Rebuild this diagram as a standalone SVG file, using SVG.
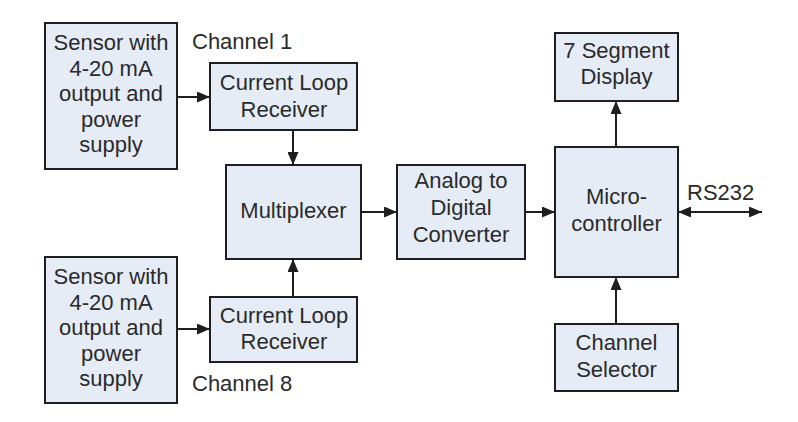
<svg xmlns="http://www.w3.org/2000/svg" width="798" height="422" viewBox="0 0 798 422">
<defs>
<style>
.box{fill:#e6ecf6;stroke:#1e1e1e;stroke-width:2}
.t{font-family:"Liberation Sans",Arial,sans-serif;font-size:22px;fill:#2a2a2a;text-anchor:middle}
.l{font-family:"Liberation Sans",Arial,sans-serif;font-size:22px;fill:#2a2a2a}
.c{stroke:#1e1e1e;stroke-width:2;fill:none;marker-end:url(#ah)}
</style>
<marker id="ah" viewBox="0 0 13 11" refX="13" refY="5.5" markerWidth="13" markerHeight="11" markerUnits="userSpaceOnUse" orient="auto-start-reverse">
<path d="M0,0 L13,5.5 L0,11 z" fill="#1e1e1e"/>
</marker>
</defs>
<rect width="798" height="422" fill="#ffffff"/>
<g id="sensor1">
<rect class="box" x="45" y="23" width="132" height="146"/>
<text class="t" x="111" y="50">Sensor with</text>
<text class="t" x="111" y="76">4-20 mA</text>
<text class="t" x="111" y="101">output and</text>
<text class="t" x="111" y="127">power</text>
<text class="t" x="111" y="152">supply</text>
</g>
<g id="sensor2">
<rect class="box" x="45" y="257" width="132" height="146"/>
<text class="t" x="111" y="284">Sensor with</text>
<text class="t" x="111" y="310">4-20 mA</text>
<text class="t" x="111" y="335">output and</text>
<text class="t" x="111" y="361">power</text>
<text class="t" x="111" y="386">supply</text>
</g>
<g id="label-ch1"><text class="l" x="192" y="49">Channel 1</text></g>
<g id="label-ch8"><text class="l" x="192" y="391">Channel 8</text></g>
<g id="clr1">
<rect class="box" x="210" y="63" width="147" height="67"/>
<text class="t" x="284" y="90">Current Loop</text>
<text class="t" x="284" y="117">Receiver</text>
</g>
<g id="clr2">
<rect class="box" x="210" y="297" width="147" height="65"/>
<text class="t" x="284" y="323">Current Loop</text>
<text class="t" x="284" y="349">Receiver</text>
</g>
<g id="mux">
<rect class="box" x="226" y="165" width="135" height="94"/>
<text class="t" x="293.5" y="218">Multiplexer</text>
</g>
<g id="adc">
<rect class="box" x="397" y="165" width="128" height="94"/>
<text class="t" x="461" y="188">Analog to</text>
<text class="t" x="461" y="215">Digital</text>
<text class="t" x="461" y="242">Converter</text>
</g>
<g id="display">
<rect class="box" x="555" y="33" width="123" height="68"/>
<text class="t" x="616.5" y="58">7 Segment</text>
<text class="t" x="616.5" y="84">Display</text>
</g>
<g id="micro">
<rect class="box" x="555" y="147" width="123" height="130"/>
<text class="t" x="616.5" y="204">Micro-</text>
<text class="t" x="616.5" y="231">controller</text>
</g>
<g id="selector">
<rect class="box" x="555" y="324" width="123" height="67"/>
<text class="t" x="616.5" y="350">Channel</text>
<text class="t" x="616.5" y="377">Selector</text>
</g>
<g id="label-rs232"><text class="l" x="687" y="200">RS232</text></g>
<g id="connectors">
<line class="c" x1="177" y1="97" x2="210" y2="97"/>
<line class="c" x1="177" y1="329" x2="210" y2="329"/>
<line class="c" x1="293" y1="130" x2="293" y2="165"/>
<line class="c" x1="293" y1="297" x2="293" y2="259"/>
<line class="c" x1="361" y1="212" x2="397" y2="212"/>
<line class="c" x1="525" y1="212" x2="555" y2="212"/>
<line class="c" x1="616" y1="147" x2="616" y2="101"/>
<line class="c" x1="616" y1="324" x2="616" y2="277"/>
<line class="c" x1="678" y1="212" x2="762" y2="212" style="marker-start:url(#ah)"/>
</g>
</svg>
